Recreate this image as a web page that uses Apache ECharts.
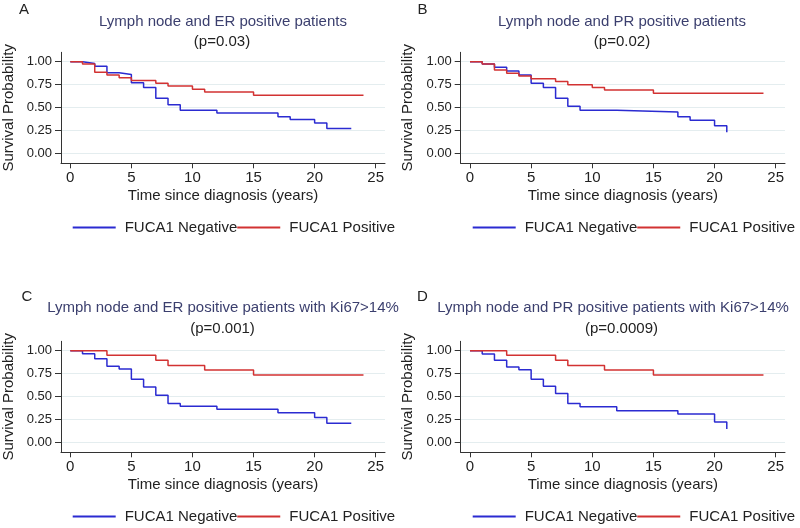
<!DOCTYPE html>
<html>
<head>
<meta charset="utf-8">
<script src="https://cdn.jsdelivr.net/npm/echarts@6/dist/echarts.min.js"></script>
<style>html,body{margin:0;padding:0;background:#fff;}#c{width:800px;height:528px;}</style>
</head>
<body>
<div id="c"></div>
<script>
// ---- data ----
const xTicks = [0, 5, 10, 15, 20, 25];
const yTicks = [0, 0.25, 0.5, 0.75, 1];
const panelLabels = ['A', 'B', 'C', 'D'];
const panelTitles = [
  'Lymph node and ER positive patients',
  'Lymph node and PR positive patients',
  'Lymph node and ER positive patients with Ki67>14%',
  'Lymph node and PR positive patients with Ki67>14%'
];
const pValues = ['(p=0.03)', '(p=0.02)', '(p=0.001)', '(p=0.0009)'];
const seriesNames = ['FUCA1 Negative', 'FUCA1 Positive'];

const A_negTime = [0, 1, 2, 3, 4, 5, 6, 7, 8, 9, 12, 17, 18, 20, 21, 23];
const A_negSurv = [1, 0.98, 0.95, 0.88, 0.86, 0.77, 0.72, 0.60, 0.53, 0.47, 0.44, 0.40, 0.37, 0.33, 0.27, 0.27];
const A_posTime = [0, 1, 2, 3, 4, 5, 7, 8, 10, 11, 15, 24];
const A_posSurv = [1, 0.975, 0.885, 0.855, 0.825, 0.795, 0.765, 0.735, 0.70, 0.67, 0.635, 0.635];

const B_negTime = [0, 1, 2, 3, 4, 5, 6, 7, 8, 9, 12, 17, 18, 20, 21];
const B_negSurv = [1, 0.975, 0.94, 0.90, 0.855, 0.765, 0.72, 0.60, 0.515, 0.47, 0.45, 0.40, 0.36, 0.30, 0.23];
const B_posTime = [0, 1, 2, 3, 4, 5, 7, 8, 10, 11, 15, 24];
const B_posSurv = [1, 0.975, 0.91, 0.875, 0.845, 0.815, 0.785, 0.75, 0.72, 0.69, 0.655, 0.655];

const C_negTime = [0, 1, 2, 3, 4, 5, 6, 7, 8, 9, 12, 17, 20, 21, 23];
const C_negSurv = [1, 0.967, 0.913, 0.83, 0.80, 0.688, 0.605, 0.514, 0.424, 0.395, 0.362, 0.322, 0.27, 0.207, 0.207];
const C_posTime = [0, 3, 7, 8, 11, 15, 24];
const C_posSurv = [1, 0.95, 0.895, 0.84, 0.79, 0.735, 0.735];

const D_negTime = [0, 1, 2, 3, 4, 5, 6, 7, 8, 9, 12, 17, 20, 21];
const D_negSurv = [1, 0.964, 0.895, 0.822, 0.793, 0.688, 0.612, 0.533, 0.424, 0.388, 0.344, 0.308, 0.221, 0.145];
const D_posTime = [0, 3, 7, 8, 11, 15, 24];
const D_posSurv = [1, 0.95, 0.895, 0.84, 0.79, 0.735, 0.735];

// ---- layout / style ----
const FONT = '"Liberation Sans", Arial, Helvetica, sans-serif';
const TXT = '#222222';
const TITLE_C = '#3b3f6e';
const BLUE = '#2b2bd1';
const RED = '#d23232';
const panels = [
  { dx: 0,   dy: 0,   neg: [A_negTime, A_negSurv], pos: [A_posTime, A_posSurv] },
  { dx: 400, dy: 0,   neg: [B_negTime, B_negSurv], pos: [B_posTime, B_posSurv] },
  { dx: 0,   dy: 289, neg: [C_negTime, C_negSurv], pos: [C_posTime, C_posSurv] },
  { dx: 400, dy: 289, neg: [D_negTime, D_negSurv], pos: [D_posTime, D_posSurv] }
];
const zip = (t, s) => t.map((v, i) => [v, s[i]]);

const grid = [], xAxis = [], yAxis = [], series = [], legend = [], graphic = [];
const titleCenters = [223, 622, 223, 613];
const pCenters = [222, 622, 222.5, 621.5];
const labelX = [24, 422.5, 27, 422.5];

panels.forEach((p, i) => {
  grid.push({ left: 60.7 + p.dx, top: 52.3 + p.dy, width: 324.3, height: 111 });
  xAxis.push({
    gridIndex: i, type: 'value', min: -0.76, max: 25.76,
    axisLine: { show: true, onZero: false, lineStyle: { color: '#333', width: 1 } },
    axisTick: { show: true, length: 5, customValues: xTicks, lineStyle: { color: '#333' } },
    axisLabel: { customValues: xTicks, fontSize: 15, color: TXT, margin: 7, fontFamily: FONT },
    splitLine: { show: false },
    name: 'Time since diagnosis (years)', nameLocation: 'middle', nameGap: 25,
    nameTextStyle: { fontSize: 15, color: TXT, fontFamily: FONT }
  });
  yAxis.push({
    gridIndex: i, type: 'value', min: -0.109, max: 1.103,
    axisLine: { show: true, onZero: false, lineStyle: { color: '#333', width: 1 } },
    axisTick: { show: true, length: 6, customValues: yTicks, lineStyle: { color: '#333' } },
    axisLabel: { customValues: yTicks, fontSize: 13, color: TXT, margin: 9, fontFamily: FONT,
                 formatter: v => Number(v).toFixed(2) },
    splitLine: { show: true, lineStyle: { color: '#e4edef', width: 1 } },
    name: 'Survival Probability', nameLocation: 'middle', nameGap: 45,
    nameTextStyle: { fontSize: 15, color: TXT, fontFamily: FONT }
  });
  series.push({
    name: seriesNames[0], type: 'line', step: 'end', xAxisIndex: i, yAxisIndex: i,
    data: zip(p.neg[0], p.neg[1]), symbol: 'none', silent: true, animation: false,
    lineStyle: { color: BLUE, width: 1.5 }, itemStyle: { color: BLUE }
  });
  series.push({
    name: seriesNames[1], type: 'line', step: 'end', xAxisIndex: i, yAxisIndex: i,
    data: zip(p.pos[0], p.pos[1]), symbol: 'none', silent: true, animation: false,
    lineStyle: { color: RED, width: 1.5 }, itemStyle: { color: RED }
  });
  legend.push({
    data: seriesNames, left: 72.7 + p.dx, top: 220 + p.dy, padding: 0,
    itemWidth: 43, itemHeight: 2, itemGap: 0, icon: 'rect', selectedMode: false,
    textStyle: { fontSize: 15, color: TXT, fontFamily: FONT, padding: [0, 0, 0, 4] }
  });
  graphic.push({
    type: 'text', x: labelX[i], y: 10 + p.dy - (i >= 2 ? 2 : 0),
    style: { text: panelLabels[i], font: '15px ' + FONT, fill: TXT, align: 'center', verticalAlign: 'middle' }
  });
  graphic.push({
    type: 'text', x: titleCenters[i], y: 22 + p.dy - (i >= 2 ? 3 : 0),
    style: { text: panelTitles[i], font: '15px ' + FONT, fill: TITLE_C, align: 'center', verticalAlign: 'middle' }
  });
  graphic.push({
    type: 'text', x: pCenters[i], y: 41.5 + p.dy - (i >= 2 ? 1.5 : 0),
    style: { text: pValues[i], font: '15px ' + FONT, fill: TXT, align: 'center', verticalAlign: 'middle' }
  });
});

const chart = echarts.init(document.getElementById('c'), null, { renderer: 'canvas' });
chart.setOption({
  animation: false,
  backgroundColor: '#ffffff',
  textStyle: { fontFamily: FONT },
  grid, xAxis, yAxis, series, legend, graphic
});
</script>
</body>
</html>
